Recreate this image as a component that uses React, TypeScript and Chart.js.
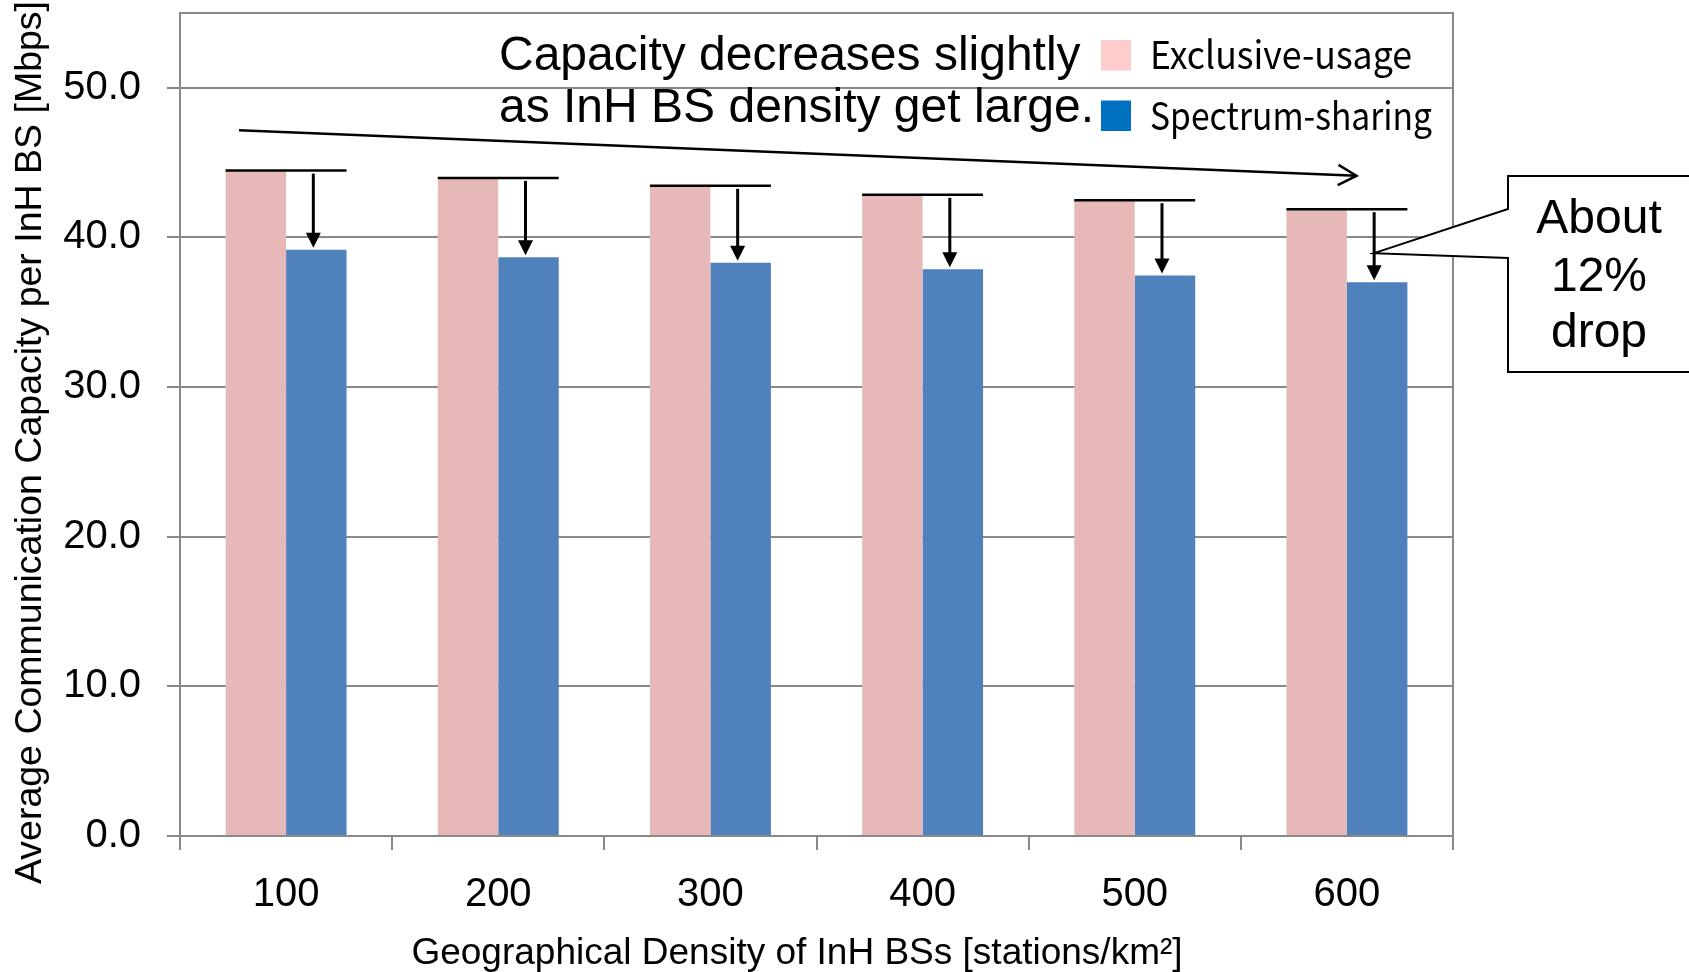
import React, { useEffect, useRef } from 'react';
import { Chart, registerables } from 'chart.js';

Chart.register(...registerables);

// ---------- data ----------
const categories = ['100', '200', '300', '400', '500', '600'];
const exclusiveUsage = [44.47, 43.98, 43.45, 42.85, 42.49, 41.89];
const spectrumSharing = [39.17, 38.68, 38.31, 37.88, 37.45, 37.01];
const seriesLabels = ['Exclusive-usage', 'Spectrum-sharing'];
const yTickValues = [0, 10, 20, 30, 40, 50];
const yMax = 55;
const headlineLines = ['Capacity decreases slightly', 'as InH BS density get large.'];
const calloutLines = ['About', '12%', 'drop'];
// annotation anchors in data space: [category index, value]
const trendArrowFrom = [-0.222, 47.17];
const trendArrowTo = [5.045, 44.12];
const calloutTip = [5.128, 38.95];
const yTitle = 'Average Communication Capacity per InH BS [Mbps]';
const xTitle = 'Geographical Density of InH BSs [stations/km²]';

// ---------- styles ----------
const BAR_COLORS = ['#E6B9B8', '#4F81BD'];
const LEGEND_COLORS = ['#FFCCCC', '#0070C0'];
const LEGEND_TEXT_WIDTHS = [262, 282];
const GRID = '#898989';
const SANS = "'Liberation Sans', Arial, sans-serif";
const LEGEND_FONT = "'Noto Sans CJK JP', 'Noto Sans', sans-serif";

const annotations = {
  id: 'annotations',
  afterDatasetsDraw(chart: any) {
    const ctx: CanvasRenderingContext2D = chart.ctx;
    const xs = chart.scales.x;
    const ys = chart.scales.y;
    const ca = chart.chartArea;
    const m0 = chart.getDatasetMeta(0);
    const m1 = chart.getDatasetMeta(1);
    ctx.save();
    ctx.strokeStyle = '#000';
    ctx.fillStyle = '#000';
    ctx.lineCap = 'butt';

    // per-category drop markers
    for (let i = 0; i < categories.length; i++) {
      const p = m0.data[i];
      const b = m1.data[i];
      const left = p.x - p.width / 2;
      const right = b.x + b.width / 2;
      ctx.lineWidth = 2.5;
      ctx.beginPath();
      ctx.moveTo(left, p.y);
      ctx.lineTo(right, p.y);
      ctx.stroke();
      const ax = b.x - 3;
      const tip = b.y - 2;
      ctx.lineWidth = 3;
      ctx.beginPath();
      ctx.moveTo(ax, p.y + 3);
      ctx.lineTo(ax, tip - 13);
      ctx.stroke();
      ctx.beginPath();
      ctx.moveTo(ax, tip);
      ctx.lineTo(ax - 7.5, tip - 15);
      ctx.lineTo(ax + 7.5, tip - 15);
      ctx.closePath();
      ctx.fill();
    }

    // trend arrow
    const x1 = xs.getPixelForValue(trendArrowFrom[0]);
    const y1 = ys.getPixelForValue(trendArrowFrom[1]);
    const x2 = xs.getPixelForValue(trendArrowTo[0]);
    const y2 = ys.getPixelForValue(trendArrowTo[1]);
    ctx.lineWidth = 2.5;
    ctx.beginPath();
    ctx.moveTo(x1, y1);
    ctx.lineTo(x2, y2);
    ctx.stroke();
    const ang = Math.atan2(y2 - y1, x2 - x1);
    const wing = 21;
    const spread = (29 * Math.PI) / 180;
    ctx.beginPath();
    ctx.moveTo(x2 - wing * Math.cos(ang - spread), y2 - wing * Math.sin(ang - spread));
    ctx.lineTo(x2, y2);
    ctx.lineTo(x2 - wing * Math.cos(ang + spread), y2 - wing * Math.sin(ang + spread));
    ctx.stroke();

    // headline
    ctx.font = `48px ${SANS}`;
    ctx.textAlign = 'left';
    ctx.textBaseline = 'alphabetic';
    ctx.fillText(headlineLines[0], ca.left + 319, ca.top + 57);
    ctx.fillText(headlineLines[1], ca.left + 319, ca.top + 109);

    // legend
    ctx.font = `38px ${LEGEND_FONT}`;
    for (let k = 0; k < seriesLabels.length; k++) {
      const bx = ca.right - 352;
      const by = ca.top + 27 + k * 60.5;
      ctx.fillStyle = LEGEND_COLORS[k];
      ctx.fillRect(bx, by, 30, 30.5);
      ctx.fillStyle = '#000';
      const sx = LEGEND_TEXT_WIDTHS[k] / ctx.measureText(seriesLabels[k]).width;
      ctx.save();
      ctx.translate(ca.right - 303, by + 29);
      ctx.scale(sx, 1);
      ctx.fillText(seriesLabels[k], 0, 0);
      ctx.restore();
    }

    // callout
    const tx = xs.getPixelForValue(calloutTip[0]);
    const ty = ys.getPixelForValue(calloutTip[1]);
    const bl = ca.right + 55;
    const bt = ca.top + 163;
    const bb = ca.top + 359;
    const br = chart.width + 10;
    const a1 = ca.top + 196;
    const a2 = ca.top + 245;
    ctx.beginPath();
    ctx.moveTo(bl, a1);
    ctx.lineTo(bl, bt);
    ctx.lineTo(br, bt);
    ctx.lineTo(br, bb);
    ctx.lineTo(bl, bb);
    ctx.lineTo(bl, a2);
    ctx.lineTo(tx, ty);
    ctx.closePath();
    ctx.fillStyle = '#fff';
    ctx.fill();
    ctx.lineWidth = 2;
    ctx.strokeStyle = '#000';
    ctx.stroke();
    ctx.fillStyle = '#000';
    ctx.font = `48px ${SANS}`;
    ctx.textAlign = 'center';
    const cx = bl + 91;
    ctx.fillText(calloutLines[0], cx, bt + 57);
    ctx.fillText(calloutLines[1], cx, bt + 115);
    ctx.fillText(calloutLines[2], cx, bt + 171);
    ctx.restore();
  },
  afterDraw(chart: any) {
    const ctx: CanvasRenderingContext2D = chart.ctx;
    const ca = chart.chartArea;
    ctx.save();
    ctx.fillStyle = '#000';
    ctx.font = `37.5px ${SANS}`;
    ctx.textAlign = 'center';
    ctx.textBaseline = 'alphabetic';
    // y title
    ctx.save();
    ctx.translate(ca.left - 139, (ca.top + ca.bottom) / 2 + 18);
    ctx.rotate(-Math.PI / 2);
    ctx.fillText(yTitle, 0, 0);
    ctx.restore();
    // x title
    ctx.font = `37px ${SANS}`;
    ctx.fillText(xTitle, ca.left + 617, ca.bottom + 128);
    ctx.restore();
  },
};

const noPad = (s: any) => {
  s.paddingTop = 0;
  s.paddingBottom = 0;
  s.paddingLeft = 0;
  s.paddingRight = 0;
};

export default function App() {
  const ref = useRef<HTMLCanvasElement>(null);
  useEffect(() => {
    if (!ref.current) return;
    Chart.defaults.font.family = SANS;
    const chart = new Chart(ref.current, {
      type: 'bar',
      data: {
        labels: categories,
        datasets: [
          {
            label: seriesLabels[0],
            data: exclusiveUsage,
            backgroundColor: BAR_COLORS[0],
            borderWidth: 0,
            categoryPercentage: 0.57,
            barPercentage: 1,
          },
          {
            label: seriesLabels[1],
            data: spectrumSharing,
            backgroundColor: BAR_COLORS[1],
            borderWidth: 0,
            categoryPercentage: 0.57,
            barPercentage: 1,
          },
        ],
      },
      options: {
        responsive: false,
        animation: false,
        devicePixelRatio: 1,
        layout: { autoPadding: false, padding: { left: 0, top: 13, right: 236, bottom: 0 } },
        plugins: { legend: { display: false }, tooltip: { enabled: false } },
        scales: {
          x: {
            offset: true,
            grid: {
              offset: true,
              drawOnChartArea: false,
              drawTicks: true,
              tickLength: 14,
              color: GRID,
              lineWidth: 2,
            },
            border: { display: true, color: GRID, width: 2 },
            ticks: {
              color: '#000',
              font: { family: SANS, size: 40 },
              padding: 21,
              maxRotation: 0,
            },
            afterFit: (s: any) => {
              s.height = 136;
              noPad(s);
            },
          },
          y: {
            min: 0,
            max: yMax,
            afterBuildTicks: (s: any) => {
              s.ticks = [...yTickValues, yMax].map((v) => ({ value: v }));
            },
            grid: {
              color: GRID,
              lineWidth: 2,
              tickLength: 13,
              tickColor: (c: any) => (c.tick && c.tick.value === yMax ? 'rgba(0,0,0,0)' : GRID),
            },
            border: { display: true, color: GRID, width: 2 },
            ticks: {
              color: '#000',
              font: { family: SANS, size: 40 },
              padding: 26,
              callback: (v: any) => (Number(v) === yMax ? '' : Number(v).toFixed(1)),
            },
            afterFit: (s: any) => {
              s.width = 180;
              noPad(s);
            },
          },
          y2: {
            position: 'right',
            display: true,
            grid: { display: false, drawTicks: false },
            ticks: { display: false },
            border: { display: true, color: GRID, width: 2 },
            afterFit: (s: any) => {
              s.width = 0;
              noPad(s);
            },
          },
        },
      } as any,
      plugins: [annotations],
    });
    return () => chart.destroy();
  }, []);
  return (
    <div style={{ position: 'absolute', left: 0, top: 0, width: 1689, height: 972, background: '#fff' }}>
      <canvas ref={ref} width={1689} height={972} style={{ display: 'block', width: 1689, height: 972 }} />
    </div>
  );
}
